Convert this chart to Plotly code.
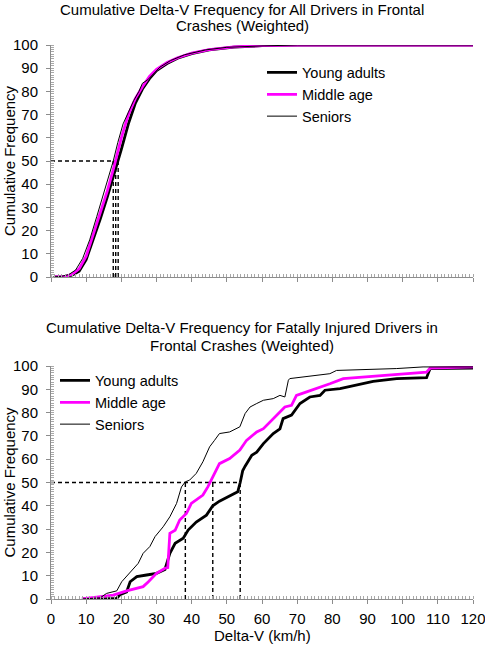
import plotly.graph_objects as go

# ---------------- data ----------------
series_names = ["Young adults", "Middle age", "Seniors"]

# Top chart: all drivers
top_young_x = [1, 4, 6, 8, 10, 12, 14, 16, 18, 19.1, 20, 22, 24, 26, 28, 30, 33, 36, 40, 45, 52, 60, 70, 120]
top_young_y = [0, 0.2, 0.8, 2.5, 7.5, 16, 25, 34.5, 44.5, 50, 55, 66, 75, 81, 85.5, 89, 92, 94.3, 96.3, 97.9, 99.1, 99.7, 100, 100]

top_middle_x = [1, 4, 6, 8, 10, 12, 14, 16, 18, 20, 22, 24, 26, 28, 30, 33, 36, 40, 45, 52, 60, 70, 120]
top_middle_y = [0, 0.3, 1.2, 3.5, 9, 18, 27, 37, 48, 60, 70, 77, 82, 86.5, 89.5, 92.5, 94.5, 96.5, 98, 99.2, 99.7, 100, 100]

top_senior_x = [0.5, 3, 5, 7, 9, 11, 13, 15, 17, 17.7, 19, 20.5, 22, 23.5, 25, 26, 27.5, 29, 31, 34, 38, 44, 50, 60, 70, 120]
top_senior_y = [0, 0.3, 1, 3, 8, 16, 26, 36, 46, 50, 58, 66, 71, 76, 80, 83.5, 85, 87.5, 90.5, 93.3, 95.8, 97.9, 99, 99.6, 100, 100]

top_medians = [19.1, 18.4, 17.7]

# Bottom chart: fatally injured drivers
bot_young_x = [8.8, 18.7, 19.6, 21.5, 22.5, 24.4, 27.2, 30, 32.4, 33.8, 35.3, 37.6, 39, 41.3, 44.2, 46, 47.9,
               51.7, 53.1, 53.8, 54.5, 55.2, 57.1, 58.5, 60.4, 63.2, 65.1, 66, 68.4, 70.8, 73.6, 76.5, 77.9,
               82.2, 86.9, 91.6, 98.3, 106.8, 107.8, 120]
bot_young_y = [0, 0.3, 1.8, 3, 7.4, 9.6, 10.3, 11, 12.7, 19.6, 23.9, 26.1, 29.6, 33, 36, 40, 42,
               45, 46, 50, 55, 57, 61.7, 63, 66.7, 71, 73, 77.4, 78.9, 83.9, 86.7, 87.4, 89.6,
               90.3, 91.7, 93.4, 94.6, 95, 98.9, 99.1]

bot_middle_x = [8.8, 14, 17.7, 21.5, 24.3, 26.2, 27.7, 30, 32.4, 33.2, 33.8, 35.3, 36.6, 38.5, 39.9, 41.3, 43.2,
                44.6, 46, 47.9, 50.8, 53.7, 55.6, 58.5, 60.4, 64.2, 66.5, 68.4, 69.8, 72.7, 75.5, 79.3, 83.1,
                86.9, 93.5, 101.1, 106.8, 107.8, 120]
bot_middle_y = [0, 1, 1.7, 3.5, 4.5, 5.3, 7.4, 11, 13.2, 13.5, 28.2, 29.5, 33.9, 36.7, 41, 42.4, 44.6,
                48.1, 52.4, 58.1, 60.3, 63.9, 68.1, 71.7, 73.1, 78.9, 82.4, 83.1, 87.4, 88.9, 90.3, 92.4, 94.6,
                95, 96, 96.7, 97.4, 99.1, 99.6]

bot_senior_x = [8.8, 14, 15.8, 18.7, 20.1, 21.5, 22.5, 24.8, 26.2, 28.1, 29.6, 31.9, 33.8, 35.7, 37.1, 38.2, 39.4,
                41.3, 43.2, 45.1, 46.5, 47.9, 50.8, 53.7, 55.2, 56.6, 58.5, 60.4, 63.2, 65.1, 66.5, 67.5, 67.9,
                74.6, 79.3, 81.2, 88.8, 98.3, 105.8, 120]
bot_senior_y = [0, 0.5, 2.4, 3.5, 7.4, 9.8, 11.2, 15.3, 19.6, 22.5, 26.8, 31, 35.3, 41, 48.1, 50.3, 51,
                53.9, 58.9, 65.3, 68.1, 71, 71.7, 73.9, 79.6, 82.4, 83.9, 85.3, 86, 87.4, 86.7, 93.9, 94.6,
                96, 96.7, 98.1, 98.4, 98.9, 99.6, 99.6]

bot_medians = [53.8, 46.0, 38.2]

median_level = 50
x_ticks = list(range(0, 121, 10))
y_ticks = list(range(0, 101, 10))

top_title_lines = ["Cumulative Delta-V Frequency for All Drivers in Frontal", "Crashes (Weighted)"]
bot_title_lines = ["Cumulative Delta-V Frequency for Fatally Injured Drivers in", "Frontal Crashes (Weighted)"]
y_title = "Cumulative Frequency"
x_title = "Delta-V (km/h)"

# ---------------- figure ----------------
FONT = "Liberation Sans, Arial, sans-serif"
colors = ["#000000", "#FF00FF", "#000000"]
widths = [2.8, 2.8, 1.0]

W, H = 485, 646
ML, MR, MT, MB = 51, 12, 45, 47
plot_h = H - MT - MB
plot_w = W - ML - MR

def py_to_paper(py):
    return (H - MB - py) / plot_h

def px_to_paper(px):
    return (px - ML) / plot_w

fig = go.Figure()

def add_dashes(medians, xa, ya):
    dash = dict(color="#000000", width=1.4, dash="4px,3px")
    fig.add_trace(go.Scatter(x=[0, max(medians)], y=[median_level, median_level], mode="lines",
                             line=dash, showlegend=False, hoverinfo="skip", xaxis=xa, yaxis=ya))
    for m in medians:
        fig.add_trace(go.Scatter(x=[m, m], y=[0, median_level], mode="lines",
                                 line=dash, showlegend=False, hoverinfo="skip", xaxis=xa, yaxis=ya))

add_dashes(top_medians, "x", "y")
add_dashes(bot_medians, "x2", "y2")

top_data = [(top_young_x, top_young_y), (top_middle_x, top_middle_y), (top_senior_x, top_senior_y)]
bot_data = [(bot_young_x, bot_young_y), (bot_middle_x, bot_middle_y), (bot_senior_x, bot_senior_y)]

for i, (xs, ys) in enumerate(top_data):
    fig.add_trace(go.Scatter(x=xs, y=ys, mode="lines", name=series_names[i],
                             line=dict(color=colors[i], width=widths[i]),
                             xaxis="x", yaxis="y", legend="legend"))
for i, (xs, ys) in enumerate(bot_data):
    fig.add_trace(go.Scatter(x=xs, y=ys, mode="lines", name=series_names[i],
                             line=dict(color=colors[i], width=widths[i]),
                             xaxis="x2", yaxis="y2", legend="legend2"))

minor = dict(ticks="inside", ticklen=3, dtick=1, tickcolor="#a8a8a8", showgrid=False)
axis_common = dict(
    range=[0, 120], showgrid=False, zeroline=False, showline=True, linecolor="#8c8c8c", linewidth=1,
    ticks="outside", ticklen=4, tickcolor="#8c8c8c", tickvals=x_ticks, minor=minor,
    tickfont=dict(family=FONT, size=15, color="#000000"), automargin=False, ticklabelstandoff=2,
    ticklabeloverflow="allow",
)
yaxis_common = dict(
    range=[0, 100], showgrid=False, zeroline=False, showline=True, linecolor="#8c8c8c", linewidth=1,
    ticks="outside", ticklen=4, tickcolor="#8c8c8c", tickvals=y_ticks, minor=minor,
    tickfont=dict(family=FONT, size=15, color="#000000"), automargin=False, ticklabelstandoff=5,
    ticklabeloverflow="allow",
)

top_dom = [py_to_paper(277), 1.0]
bot_dom = [0.0, py_to_paper(366)]

annotations = []
for txt, py in zip(top_title_lines, [10, 26]):
    annotations.append(dict(text=txt, x=px_to_paper(242), y=py_to_paper(py), xref="paper", yref="paper",
                            showarrow=False, xanchor="center", yanchor="middle",
                            font=dict(family=FONT, size=15, color="#000000")))
for txt, py in zip(bot_title_lines, [328, 345.5]):
    annotations.append(dict(text=txt, x=px_to_paper(242), y=py_to_paper(py), xref="paper", yref="paper",
                            showarrow=False, xanchor="center", yanchor="middle",
                            font=dict(family=FONT, size=15, color="#000000")))
for py in [161, 482.5]:
    annotations.append(dict(text=y_title, x=px_to_paper(9), y=py_to_paper(py), xref="paper", yref="paper",
                            showarrow=False, xanchor="center", yanchor="middle", textangle=-90,
                            font=dict(family=FONT, size=15, color="#000000")))
annotations.append(dict(text=x_title, x=px_to_paper(262), y=py_to_paper(635.5), xref="paper", yref="paper",
                        showarrow=False, xanchor="center", yanchor="middle",
                        font=dict(family=FONT, size=15, color="#000000")))

fig.update_layout(
    width=W, height=H,
    margin=dict(l=ML, r=MR, t=MT, b=MB),
    paper_bgcolor="white", plot_bgcolor="white",
    font=dict(family=FONT, size=15, color="#000000"),
    xaxis=dict(**axis_common, domain=[0, 1], anchor="y", showticklabels=False),
    yaxis=dict(**yaxis_common, domain=top_dom, anchor="x"),
    xaxis2=dict(**axis_common, domain=[0, 1], anchor="y2"),
    yaxis2=dict(**yaxis_common, domain=bot_dom, anchor="x2"),
    legend=dict(x=px_to_paper(262), y=py_to_paper(56.5), xanchor="left", yanchor="top",
                bgcolor="rgba(0,0,0,0)", font=dict(family=FONT, size=14.5), tracegroupgap=0),
    legend2=dict(x=px_to_paper(55), y=py_to_paper(364.5), xanchor="left", yanchor="top",
                 bgcolor="rgba(0,0,0,0)", font=dict(family=FONT, size=14.5), tracegroupgap=0),
    annotations=annotations,
)

fig.write_html("out.html", config={"displayModeBar": False},
               post_script="document.body.style.margin='0';document.body.style.overflow='hidden';")
